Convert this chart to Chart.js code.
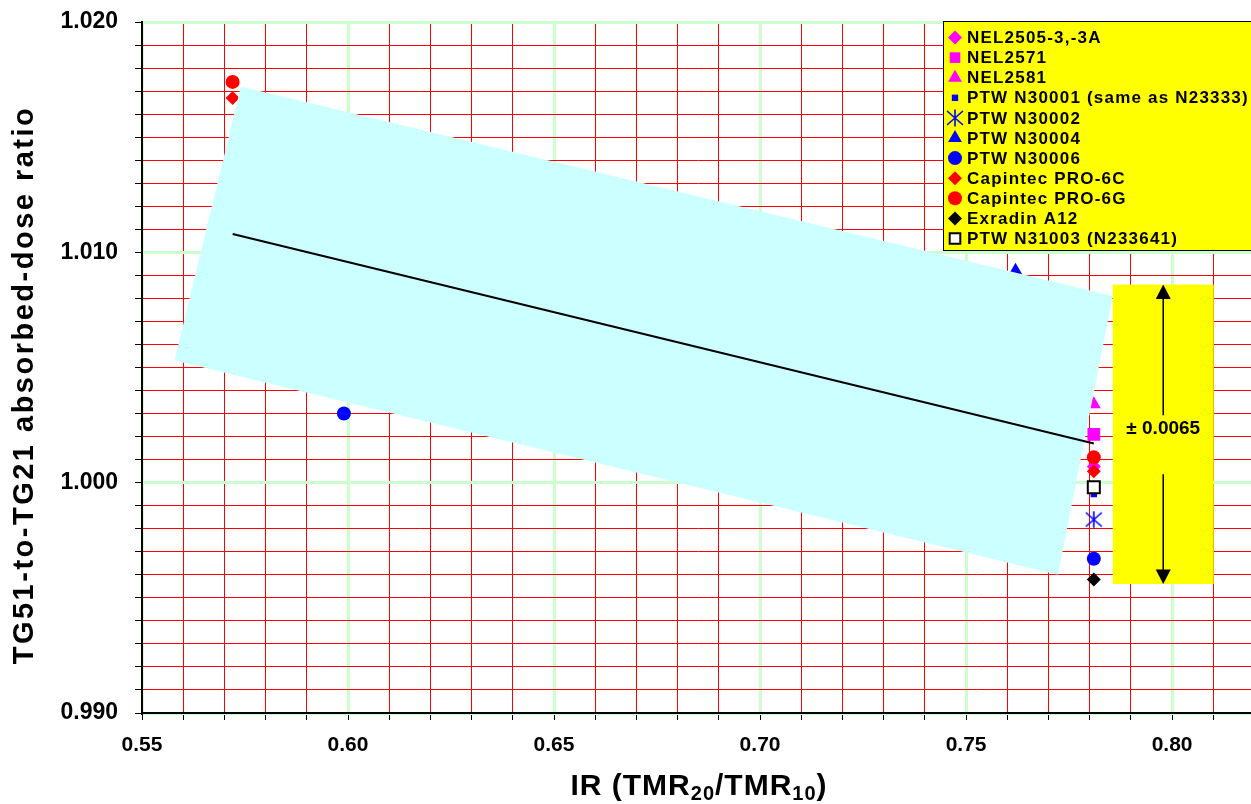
<!DOCTYPE html>
<html>
<head>
<meta charset="utf-8">
<title>TG51 vs TG21</title>
<script src="https://cdn.jsdelivr.net/npm/chart.js@4.4.1/dist/chart.umd.min.js"></script>
<style>
  html, body { margin: 0; padding: 0; background: #fff; overflow: hidden; }
  #grafica { display: block; width: 1265px; height: 804px; }
</style>
</head>
<body>
<canvas id="grafica" width="1265" height="804"></canvas>
<script>
// Datos
const camaras = [
  "NEL2505-3,-3A", "NEL2571", "NEL2581", "PTW N30001 (same as N23333)",
  "PTW N30002", "PTW N30004", "PTW N30006", "Capintec PRO-6C",
  "Capintec PRO-6G", "Exradin A12", "PTW N31003 (N233641)",
];
const valoresIR = [
  [0.781], [0.781], [0.781], [0.781], [0.781], [0.762],
  [0.599, 0.781], [0.572, 0.781], [0.572, 0.781], [0.781], [0.781],
];
const cocientes = [
  [1.0007], [1.0021], [1.0034], [0.9995], [0.9984], [1.0092],
  [1.0030, 0.9967], [1.0167, 1.0005], [1.0174, 1.0011], [0.9958], [0.9998],
];
// Recta de ajuste
const ajusteX = [0.572, 0.781];
const ajusteY = [1.0108, 1.0017];
// Banda cian (esquinas del rectángulo girado)
const bandaX = [0.5740, 0.7856, 0.7723, 0.5579, 0.5740];
const bandaY = [1.0172, 1.0081, 0.9960, 1.0053, 1.0172];
// Tolerancia
const toleranciaCentro = 1.0021;
const toleranciaMedia = 0.0065;
const toleranciaTexto = "± 0.0065";
// Ticks
const ticksX = ["0.55", "0.60", "0.65", "0.70", "0.75", "0.80"];
const ticksY = ["0.990", "1.000", "1.010", "1.020"];

const FUENTE = 'Arial, "Liberation Sans", sans-serif';

document.addEventListener("DOMContentLoaded", function () {
  cargarGrafica();
});

// Asterisco de 6 brazos como en Excel
function crearAsterisco() {
  const c = document.createElement("canvas");
  c.width = 18;
  c.height = 18;
  const g = c.getContext("2d");
  g.strokeStyle = "#0000FF";
  g.lineWidth = 1.6;
  g.beginPath();
  g.moveTo(9, 0.5); g.lineTo(9, 17.5);
  g.moveTo(1, 2); g.lineTo(17, 16);
  g.moveTo(17, 2); g.lineTo(1, 16);
  g.stroke();
  return c;
}

function cargarGrafica() {
  const ctx = document.getElementById("grafica").getContext("2d");

  const estilos = [
    { forma: "rectRot", relleno: "#FF00FF", radio: 7 },
    { forma: "rect", relleno: "#FF00FF", radio: 9 },
    { forma: "triangle", relleno: "#FF00FF", radio: 8 },
    { forma: "rect", relleno: "#0000FF", radio: 4.5 },
    { forma: crearAsterisco(), relleno: "#0000FF", radio: 9 },
    { forma: "triangle", relleno: "#0000FF", radio: 8 },
    { forma: "circle", relleno: "#0000FF", radio: 7 },
    { forma: "rectRot", relleno: "#FF0000", radio: 7 },
    { forma: "circle", relleno: "#FF0000", radio: 7 },
    { forma: "rectRot", relleno: "#000000", radio: 7 },
    { forma: "rect", relleno: "#FFFFFF", radio: 8.5, borde: "#000000", ancho: 2 },
  ];

  const datasets = camaras.map(function (nombre, i) {
    const e = estilos[i];
    return {
      type: "scatter",
      label: nombre,
      data: valoresIR[i].map((x, j) => ({ x: x, y: cocientes[i][j] })),
      pointStyle: e.forma,
      pointRadius: e.radio,
      pointBackgroundColor: e.relleno,
      pointBorderColor: e.borde || e.relleno,
      pointBorderWidth: e.ancho || 0,
      order: 100 - i,
      enLeyenda: true,
    };
  });

  // Banda cian
  datasets.push({
    type: "line",
    label: "banda",
    data: bandaX.map((x, j) => ({ x: x, y: bandaY[j] })),
    fill: "shape",
    backgroundColor: "#CCFFFF",
    borderColor: "rgba(0,0,0,0)",
    borderWidth: 0,
    pointRadius: 0,
    tension: 0,
    order: 1,
  });

  // Recta de ajuste
  datasets.push({
    type: "line",
    label: "ajuste",
    data: ajusteX.map((x, j) => ({ x: x, y: ajusteY[j] })),
    fill: false,
    borderColor: "#000000",
    borderWidth: 2,
    pointRadius: 0,
    order: 0,
  });

  const verde = "#CCFFCC";
  const rojo = "#FF0000";

  // Cuadro amarillo con flechas y leyenda
  const anotaciones = {
    id: "anotaciones",
    afterDatasetsDraw(chart) {
      const c = chart.ctx;
      const sx = chart.scales.x;
      const sy = chart.scales.y;

      // Caja de tolerancia
      const x1 = sx.getPixelForValue(0.7856);
      const x2 = sx.getPixelForValue(0.8101);
      const yTop = sy.getPixelForValue(toleranciaCentro + toleranciaMedia);
      const yBot = sy.getPixelForValue(toleranciaCentro - toleranciaMedia);
      const yMid = (yTop + yBot) / 2;
      const xm = (x1 + x2) / 2;
      c.save();
      c.fillStyle = "#FFFF00";
      c.fillRect(x1, yTop, x2 - x1, yBot - yTop);
      c.strokeStyle = "#000";
      c.fillStyle = "#000";
      c.lineWidth = 1.5;
      c.beginPath();
      c.moveTo(xm, yMid - 19); c.lineTo(xm, yTop + 12);
      c.moveTo(xm, yMid + 40); c.lineTo(xm, yBot - 12);
      c.stroke();
      c.beginPath();
      c.moveTo(xm, yTop); c.lineTo(xm - 7.5, yTop + 14.5); c.lineTo(xm + 7.5, yTop + 14.5);
      c.closePath(); c.fill();
      c.beginPath();
      c.moveTo(xm, yBot); c.lineTo(xm - 7.5, yBot - 14.5); c.lineTo(xm + 7.5, yBot - 14.5);
      c.closePath(); c.fill();
      c.font = "bold 19px " + FUENTE;
      c.textAlign = "center";
      c.textBaseline = "middle";
      c.fillText(toleranciaTexto, xm, yMid - 6);
      c.restore();

      // Leyenda
      c.save();
      c.fillStyle = "#FFFF00";
      c.fillRect(943, 21, 313, 229);
      c.strokeStyle = "#000";
      c.lineWidth = 1;
      c.strokeRect(943.5, 21.5, 313, 229);
      c.font = "bold 17px " + FUENTE;
      c.letterSpacing = "1.2px";
      c.textAlign = "left";
      c.textBaseline = "middle";
      chart.data.datasets.forEach(function (ds, i) {
        if (!ds.enLeyenda) return;
        const y = 37.5 + i * 20.1;
        c.fillStyle = ds.pointBackgroundColor;
        c.strokeStyle = ds.pointBorderColor;
        c.lineWidth = ds.pointBorderWidth;
        let r = ds.pointRadius;
        if (ds.pointStyle === "rect" && r > 6) r = 7.5;
        Chart.helpers.drawPoint(c, {
          pointStyle: ds.pointStyle,
          radius: r,
          rotation: 0,
          borderWidth: ds.pointBorderWidth,
        }, 955, y);
        c.fillStyle = "#000";
        c.fillText(ds.label, 967, y + 1);
      });
      c.restore();
    },
    afterDraw(chart) {
      const c = chart.ctx;
      c.save();
      c.fillStyle = "#000";
      // Título eje Y
      c.translate(33, 385);
      c.rotate(-Math.PI / 2);
      c.font = "bold 29px " + FUENTE;
      c.letterSpacing = "2.5px";
      c.textAlign = "center";
      c.textBaseline = "alphabetic";
      c.fillText("TG51-to-TG21 absorbed-dose ratio", 0, 0);
      c.restore();

      // Título eje X con subíndices
      c.save();
      c.fillStyle = "#000";
      c.textBaseline = "alphabetic";
      c.textAlign = "left";
      const partes = [
        ["IR (TMR", false], ["20", true], ["/TMR", false], ["10", true], [")", false],
      ];
      const fGrande = "bold 30px " + FUENTE;
      const fSub = "bold 20px " + FUENTE;
      c.letterSpacing = "1px";
      let total = 0;
      partes.forEach(function (p) {
        c.font = p[1] ? fSub : fGrande;
        total += c.measureText(p[0]).width;
      });
      let x = 699 - total / 2;
      partes.forEach(function (p) {
        c.font = p[1] ? fSub : fGrande;
        c.fillText(p[0], x, p[1] ? 800 : 795);
        x += c.measureText(p[0]).width;
      });
      c.restore();
    },
  };

  new Chart(ctx, {
    type: "scatter",
    data: { datasets: datasets },
    options: {
      responsive: false,
      animation: false,
      events: [],
      layout: { padding: { top: 22, right: 1, left: 0, bottom: 0 } },
      plugins: {
        legend: { display: false },
        tooltip: { enabled: false },
        title: { display: false },
      },
      scales: {
        x: {
          type: "linear",
          min: 0.55,
          max: 0.82,
          afterFit: function (s) {
            s.height = 91;
            s.paddingLeft = 0;
            s.paddingRight = 0;
          },
          border: { color: "#000", width: 2 },
          grid: {
            color: (c) => (c.tick && Math.round(c.tick.value * 100) % 5 === 0 ? verde : rojo),
            lineWidth: (c) => (c.tick && Math.round(c.tick.value * 100) % 5 === 0 ? 3 : 1),
            tickColor: "#000",
            tickLength: 7,
            tickWidth: 1,
          },
          ticks: {
            stepSize: 0.01,
            autoSkip: false,
            maxRotation: 0,
            padding: 13,
            color: "#000",
            font: { family: FUENTE, size: 21, weight: "bold" },
            callback: function (v) {
              const t = v.toFixed(2);
              return ticksX.includes(t) ? t : "";
            },
          },
        },
        y: {
          min: 0.99,
          max: 1.02,
          afterFit: function (s) {
            s.width = 142;
            s.paddingTop = 0;
            s.paddingBottom = 0;
          },
          border: { color: "#000", width: 2 },
          grid: {
            color: (c) => (c.tick && Math.round(c.tick.value * 1000) % 10 === 0 ? verde : rojo),
            lineWidth: (c) => (c.tick && Math.round(c.tick.value * 1000) % 10 === 0 ? 3 : 1),
            tickColor: "#000",
            tickLength: 7,
            tickWidth: 1,
          },
          ticks: {
            stepSize: 0.001,
            autoSkip: false,
            padding: 17,
            color: "#000",
            font: { family: FUENTE, size: 23, weight: "bold" },
            callback: function (v) {
              const t = v.toFixed(3);
              return ticksY.includes(t) ? t : "";
            },
          },
        },
      },
    },
    plugins: [anotaciones],
  });
}
</script>
</body>
</html>
